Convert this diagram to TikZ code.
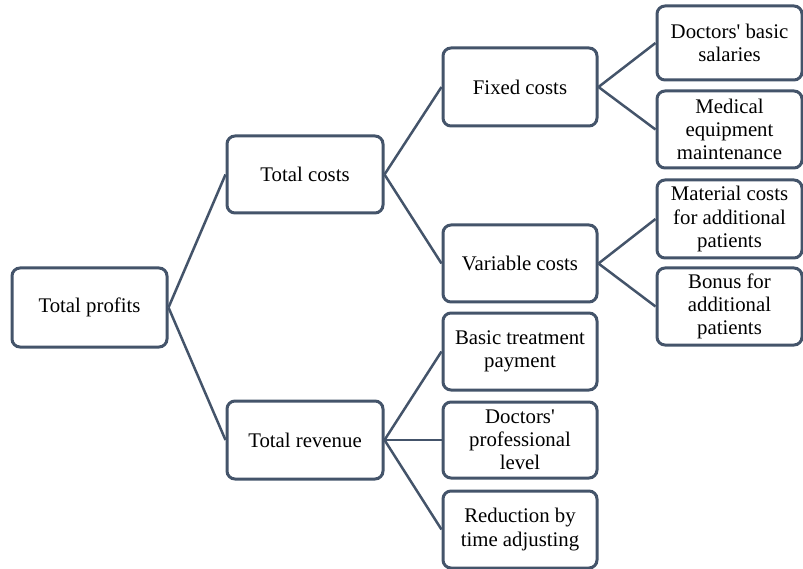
\documentclass[tikz,border=0pt]{standalone}
\usepackage{fontspec}
\setmainfont{Liberation Serif}[Ligatures=TeXOff]
\definecolor{slate}{HTML}{44546A}
\begin{document}
\begin{tikzpicture}[x=1pt,y=-1pt,
  box/.style={draw=slate, line width=3pt, rounded corners=8pt, fill=white,
    align=center, inner sep=0pt, font=\fontsize{20.8}{23.2}\selectfont},
  link/.style={draw=slate, line width=2.5pt}]
\useasboundingbox (0,0) rectangle (803,569);
\node[box, minimum width=155pt, minimum height=79pt] (tp) at (89.5,307.5) {Total profits};
\node[box, minimum width=156pt, minimum height=77pt] (tc) at (305,174.5) {Total costs};
\node[box, minimum width=156pt, minimum height=78pt] (tr) at (305,440) {Total revenue};
\node[box, minimum width=154pt, minimum height=78pt] (fc) at (520,87) {Fixed costs};
\node[box, minimum width=154pt, minimum height=77pt] (vc) at (520,263.5) {Variable costs};
\node[box, minimum width=154pt, minimum height=77pt] (btp) at (520,351.5) {Basic treatment\\payment};
\node[box, minimum width=154pt, minimum height=76pt] (dpl) at (520,440) {Doctors'\\professional\\level};
\node[box, minimum width=154pt, minimum height=77pt] (rtd) at (520,529.5) {Reduction by\\time adjusting};
\node[box, minimum width=145pt, minimum height=74pt] (dbs) at (729.5,43) {Doctors' basic\\salaries};
\node[box, minimum width=145pt, minimum height=77pt] (mem) at (729.5,129.5) {Medical\\equipment\\maintenance};
\node[box, minimum width=145pt, minimum height=78pt] (mat) at (729.5,219) {Material costs\\for additional\\patients};
\node[box, minimum width=145pt, minimum height=77pt] (bon) at (729.5,306.5) {Bonus for\\additional\\patients};
\draw[link] (tp.east) -- (tc.west);
\draw[link] (tp.east) -- (tr.west);
\draw[link] (tc.east) -- (fc.west);
\draw[link] (tc.east) -- (vc.west);
\draw[link] (fc.east) -- (dbs.west);
\draw[link] (fc.east) -- (mem.west);
\draw[link] (vc.east) -- (mat.west);
\draw[link] (vc.east) -- (bon.west);
\draw[link] (tr.east) -- (btp.west);
\draw[link] (tr.east) -- (dpl.west);
\draw[link] (tr.east) -- (rtd.west);
\end{tikzpicture}
\end{document}
